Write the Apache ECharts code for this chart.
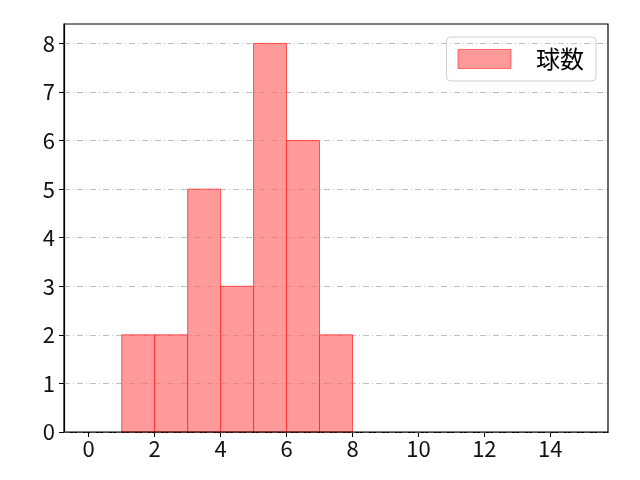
<!DOCTYPE html>
<html><head><meta charset="utf-8">
<script src="https://cdn.jsdelivr.net/npm/echarts@6/dist/echarts.min.js"></script>
<style>html,body{margin:0;padding:0;background:#fff}#c{width:640px;height:480px}</style>
</head><body><div id="c"></div>
<script>
const binStarts = [1, 2, 3, 4, 5, 6, 7];
const binEnds = [2, 3, 4, 5, 6, 7, 8];
const counts = [2, 2, 5, 3, 8, 6, 2];
const seriesName = '球数';
const xTicks = [0, 2, 4, 6, 8, 10, 12, 14];
const yTicks = [0, 1, 2, 3, 4, 5, 6, 7, 8];

const data = binStarts.map((s, i) => [s, binEnds[i], counts[i]]);
const FONT = 'Noto Sans CJK JP';
const chart = echarts.init(document.getElementById('c'));
chart.setOption({
  animation: false,
  backgroundColor: '#fff',
  grid: { left: 64, right: 32, top: 24, bottom: 48 },
  legend: {
    right: 44, top: 37,
    itemWidth: 53, itemHeight: 19, itemGap: 10,
    padding: [10, 12, 10, 11],
    borderColor: '#d0d0d0', borderWidth: 1, borderRadius: 4,
    textStyle: { fontFamily: FONT, fontSize: 24, color: '#000', padding: [0, 0, 0, 20] },
    data: [{ name: seriesName, icon: 'rect', itemStyle: { color: 'rgba(255,100,100,0.65)', borderColor: 'rgba(255,60,60,0.7)', borderWidth: 1 } }]
  },
  xAxis: {
    type: 'value', min: -0.75, max: 15.75, interval: 2,
    axisLine: { show: true, onZero: false, lineStyle: { color: '#000', width: 1.2 } },
    axisTick: { show: true, length: 5, lineStyle: { color: '#000' }, customValues: xTicks },
    axisLabel: { fontFamily: FONT, fontSize: 22, color: '#111', margin: 6, customValues: xTicks, showMinLabel: true, showMaxLabel: true, hideOverlap: false },
    splitLine: { show: false }
  },
  yAxis: {
    type: 'value', min: 0, max: 8.4, interval: 1,
    axisLine: { show: true, onZero: false, lineStyle: { color: '#000', width: 1.2 } },
    axisTick: { show: true, length: 5, lineStyle: { color: '#000' }, customValues: yTicks },
    axisLabel: { fontFamily: FONT, fontSize: 22, color: '#111', margin: 9, customValues: yTicks, showMinLabel: true, showMaxLabel: true, hideOverlap: false },
    splitLine: { show: false }
  },
  series: [
    {
      name: seriesName, type: 'custom',
      renderItem: function (params, api) {
        const p0 = api.coord([api.value(0), api.value(2)]);
        const p1 = api.coord([api.value(1), 0]);
        return {
          type: 'rect',
          shape: { x: p0[0], y: p0[1], width: p1[0] - p0[0], height: p1[1] - p0[1] },
          style: { fill: 'rgba(255,100,100,0.65)', stroke: 'rgba(255,40,40,0.75)', lineWidth: 1 }
        };
      },
      encode: { x: [0, 1], y: 2 },
      data: data,
      z: 2
    },
    {
      type: 'line', data: [], silent: true,
      markLine: {
        silent: true, symbol: 'none', z: 1,
        label: { show: false },
        lineStyle: { color: '#b0b0b0', type: [6, 3, 1, 3], width: 0.8 },
        data: yTicks.map(v => ({ yAxis: v }))
      }
    }
  ],
  graphic: [
    { type: 'rect', shape: { x: 64, y: 24, width: 544, height: 408 }, style: { fill: 'none', stroke: '#000', lineWidth: 1.2 }, z: 10, silent: true }
  ]
});
</script></body></html>
